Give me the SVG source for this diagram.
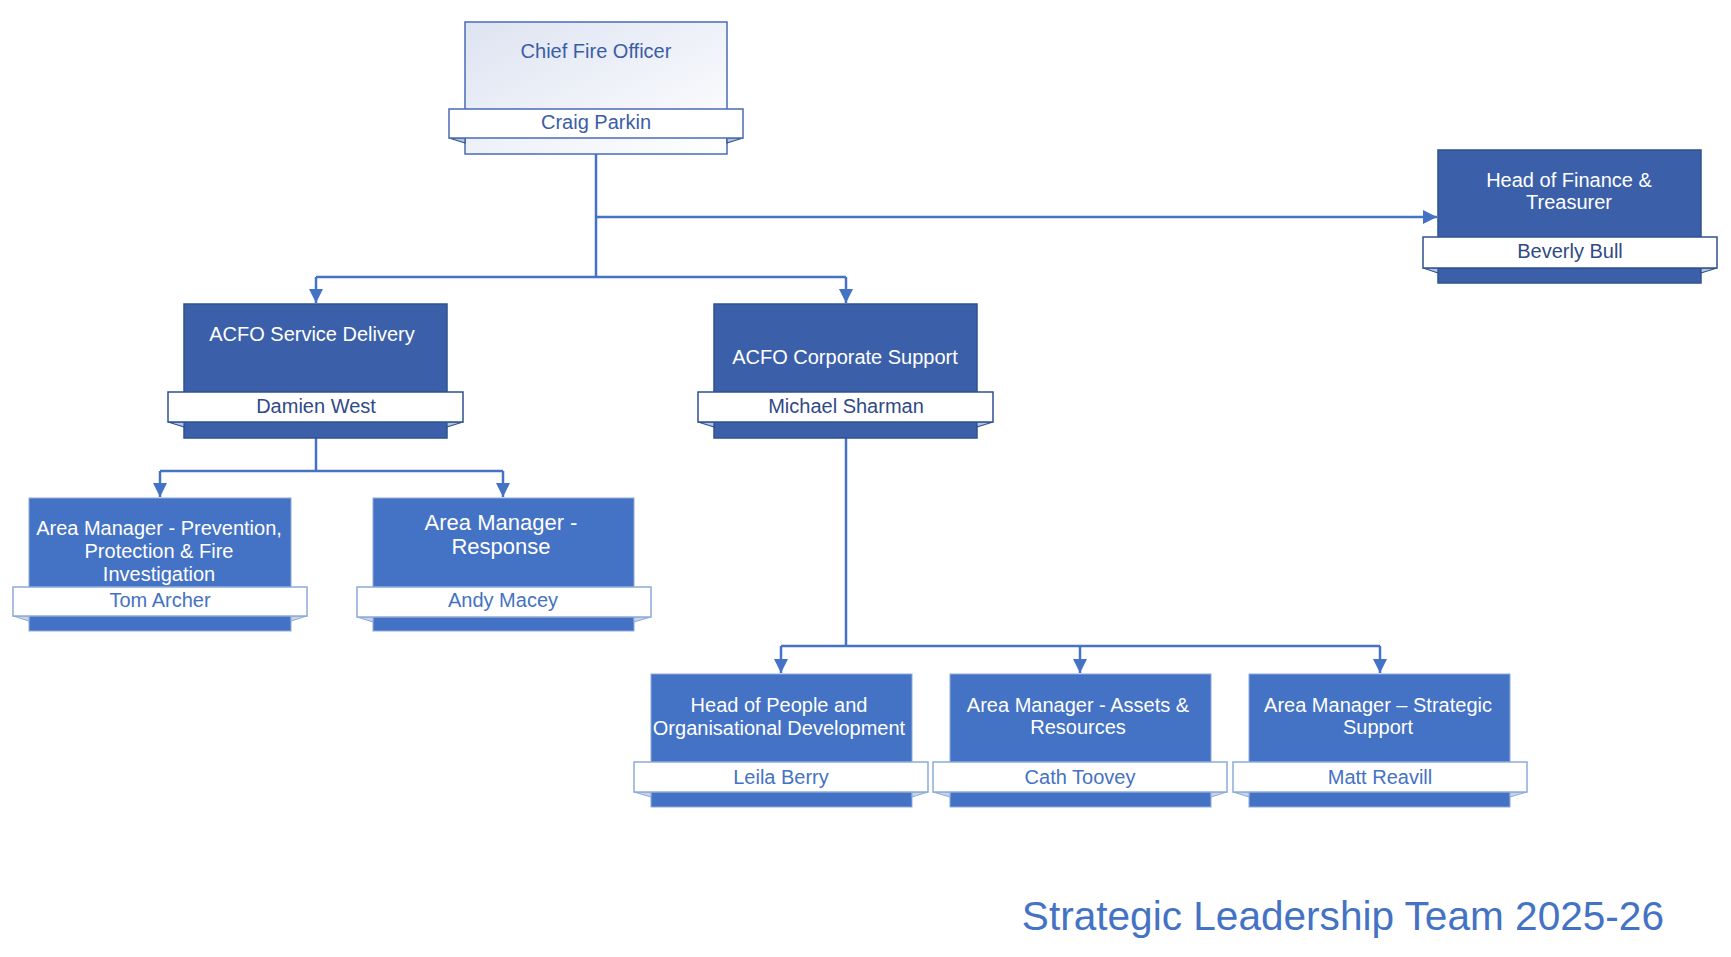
<svg xmlns="http://www.w3.org/2000/svg" width="1731" height="957" viewBox="0 0 1731 957">
<style>
text{font-family:"Liberation Sans",Arial,sans-serif;text-anchor:middle}
.t{font-size:20px;fill:#fff}
.tr{font-size:22px;fill:#fff}
.dark{fill:#3b5fa9;stroke:#2f528f;stroke-width:1.5}
.light{fill:#4472c4;stroke:#8eaadb;stroke-width:1}
.bd{fill:#fff;stroke:#2f528f;stroke-width:1.5}
.bl{fill:#fff;stroke:#8eaadb;stroke-width:1.5}
.fd{fill:#b4c3de;stroke:#2f528f;stroke-width:1.2}
.fl{fill:#c9d3e6;stroke:#8eaadb;stroke-width:1}
.nd{font-size:20px;fill:#2f4a85}
.nl{font-size:20px;fill:#4472c4}
.c{fill:none;stroke:#4472c4;stroke-width:2.5}
</style>
<defs>
<linearGradient id="g" x1="0" y1="0" x2="1" y2="1">
<stop offset="0" stop-color="#dde3f1"/>
<stop offset="1" stop-color="#ffffff"/>
</linearGradient>
<marker id="a" markerUnits="userSpaceOnUse" markerWidth="16" markerHeight="16" refX="14" refY="7" orient="auto" viewBox="0 0 16 16">
<path d="M0,0 L14,7 L0,14 Z" fill="#4472c4"/>
</marker>
</defs>
<rect width="1731" height="957" fill="#fff"/>

<g id="connectors">
<path class="c" d="M596,154 V277"/>
<path class="c" d="M596,217 H1437" marker-end="url(#a)"/>
<path class="c" d="M316,277 H846"/>
<path class="c" d="M316,277 V303" marker-end="url(#a)"/>
<path class="c" d="M846,277 V303" marker-end="url(#a)"/>
<path class="c" d="M316,438 V471 M160,471 H503"/>
<path class="c" d="M160,471 V497" marker-end="url(#a)"/>
<path class="c" d="M503,471 V497" marker-end="url(#a)"/>
<path class="c" d="M846,438 V646 M781,646 H1380"/>
<path class="c" d="M781,646 V673" marker-end="url(#a)"/>
<path class="c" d="M1080,646 V673" marker-end="url(#a)"/>
<path class="c" d="M1380,646 V673" marker-end="url(#a)"/>
</g>

<g id="cfo">
<rect x="465" y="22" width="262" height="132" fill="url(#g)" stroke="#4a6bb5" stroke-width="1.5"/>
<polygon class="fd" points="449,138 465,138 465,143"/>
<polygon class="fd" points="743,138 727,138 727,143"/>
<rect class="bd" x="449" y="109" width="294" height="29" style="stroke:#4a6bb5"/>
<text x="596" y="58" style="font-size:20px;fill:#3a5da8">Chief Fire Officer</text>
<text x="596" y="129" style="font-size:20px;fill:#3a5da8">Craig Parkin</text>
</g>

<g id="finance">
<rect class="dark" x="1438" y="150" width="263" height="133"/>
<polygon class="fd" points="1423,268 1438,268 1438,273"/>
<polygon class="fd" points="1717,268 1701,268 1701,273"/>
<rect class="bd" x="1423" y="237" width="294" height="31"/>
<text class="t" x="1569" y="187">Head of Finance &amp;</text>
<text class="t" x="1569" y="209">Treasurer</text>
<text class="nd" x="1570" y="258">Beverly Bull</text>
</g>

<g id="acfo-sd">
<rect class="dark" x="184" y="304" width="263" height="134"/>
<polygon class="fd" points="168,422 184,422 184,427"/>
<polygon class="fd" points="463,422 447,422 447,427"/>
<rect class="bd" x="168" y="392" width="295" height="30"/>
<text class="t" x="312" y="341">ACFO Service Delivery</text>
<text class="nd" x="316" y="413">Damien West</text>
</g>

<g id="acfo-cs">
<rect class="dark" x="714" y="304" width="263" height="134"/>
<polygon class="fd" points="698,422 714,422 714,427"/>
<polygon class="fd" points="993,422 977,422 977,427"/>
<rect class="bd" x="698" y="392" width="295" height="30"/>
<text class="t" x="845" y="364">ACFO Corporate Support</text>
<text class="nd" x="846" y="413">Michael Sharman</text>
</g>

<g id="am-prevention">
<rect class="light" x="29" y="498" width="262" height="133"/>
<polygon class="fl" points="13,616 29,616 29,621"/>
<polygon class="fl" points="307,616 291,616 291,621"/>
<rect class="bl" x="13" y="587" width="294" height="29"/>
<text class="t" x="159" y="535">Area Manager - Prevention,</text>
<text class="t" x="159" y="558">Protection &amp; Fire</text>
<text class="t" x="159" y="581">Investigation</text>
<text class="nl" x="160" y="607">Tom Archer</text>
</g>

<g id="am-response">
<rect class="light" x="373" y="498" width="261" height="133"/>
<polygon class="fl" points="357,617 373,617 373,622"/>
<polygon class="fl" points="651,617 634,617 634,622"/>
<rect class="bl" x="357" y="587" width="294" height="30"/>
<text class="tr" x="501" y="530">Area Manager -</text>
<text class="tr" x="501" y="554">Response</text>
<text class="nl" x="503" y="607">Andy Macey</text>
</g>

<g id="head-people">
<rect class="light" x="651" y="674" width="261" height="133"/>
<polygon class="fl" points="634,792 651,792 651,797"/>
<polygon class="fl" points="928,792 912,792 912,797"/>
<rect class="bl" x="634" y="762" width="294" height="30"/>
<text class="t" x="779" y="712">Head of People and</text>
<text class="t" x="779" y="735">Organisational Development</text>
<text class="nl" x="781" y="784">Leila Berry</text>
</g>

<g id="am-assets">
<rect class="light" x="950" y="674" width="261" height="133"/>
<polygon class="fl" points="933,792 950,792 950,797"/>
<polygon class="fl" points="1227,792 1211,792 1211,797"/>
<rect class="bl" x="933" y="762" width="294" height="30"/>
<text class="t" x="1078" y="712">Area Manager - Assets &amp;</text>
<text class="t" x="1078" y="734">Resources</text>
<text class="nl" x="1080" y="784">Cath Toovey</text>
</g>

<g id="am-strategic">
<rect class="light" x="1249" y="674" width="261" height="133"/>
<polygon class="fl" points="1233,792 1249,792 1249,797"/>
<polygon class="fl" points="1527,792 1510,792 1510,797"/>
<rect class="bl" x="1233" y="762" width="294" height="30"/>
<text class="t" x="1378" y="712">Area Manager – Strategic</text>
<text class="t" x="1378" y="734">Support</text>
<text class="nl" x="1380" y="784">Matt Reavill</text>
</g>

<text x="1664" y="930" style="font-size:40.6px;fill:#4472c4;text-anchor:end">Strategic Leadership Team 2025-26</text>
</svg>
